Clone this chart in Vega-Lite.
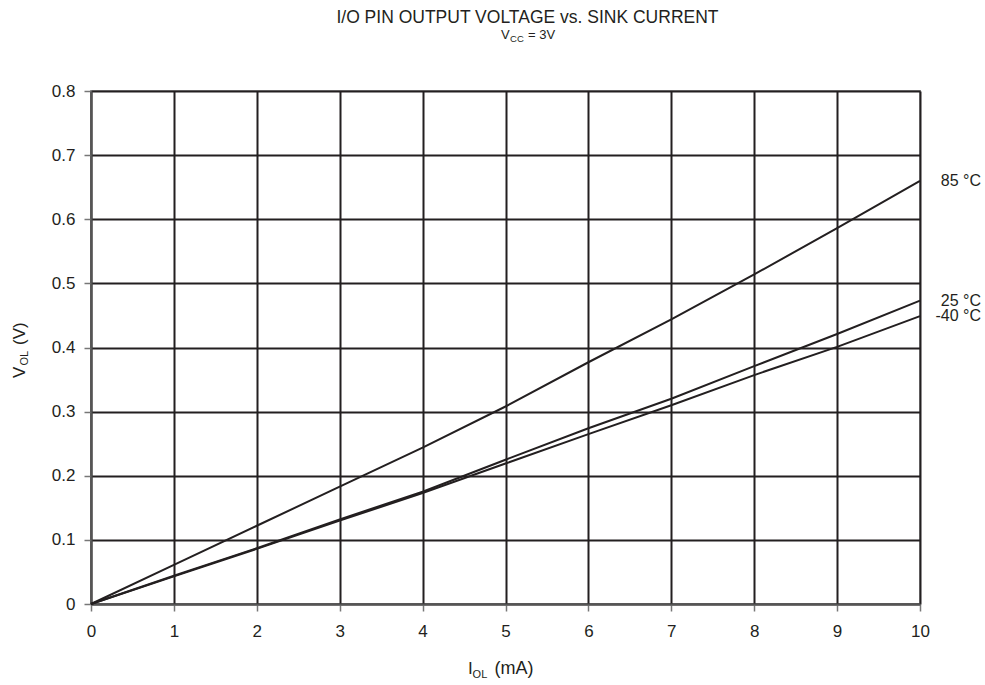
{
  "$schema": "https://vega.github.io/schema/vega-lite/v6.json",
  "width": 829,
  "height": 513,
  "autosize": {"type": "none"},
  "padding": {"left": 91, "top": 91, "right": 65, "bottom": 81},
  "background": "white",
  "config": {
    "font": "Liberation Sans",
    "view": {"stroke": "#9a9a9a", "strokeWidth": 2},
    "axis": {
      "grid": true,
      "gridColor": "#231f20",
      "gridWidth": 2,
      "gridOpacity": 1,
      "domainColor": "#555555",
      "domainWidth": 2,
      "tickColor": "#777777",
      "tickWidth": 1.5,
      "tickSize": 7,
      "labelFont": "Liberation Sans",
      "labelFontSize": 17,
      "labelColor": "#231f20",
      "labelFlush": false,
      "labelOverlap": false,
      "title": null
    }
  },
  "datasets": {
    "curves": [
      {"I": 0, "V": 0, "series": "85 °C"},
      {"I": 1, "V": 0.061, "series": "85 °C"},
      {"I": 2, "V": 0.122, "series": "85 °C"},
      {"I": 3, "V": 0.183, "series": "85 °C"},
      {"I": 4, "V": 0.244, "series": "85 °C"},
      {"I": 5, "V": 0.308, "series": "85 °C"},
      {"I": 6, "V": 0.377, "series": "85 °C"},
      {"I": 7, "V": 0.444, "series": "85 °C"},
      {"I": 8, "V": 0.514, "series": "85 °C"},
      {"I": 9, "V": 0.586, "series": "85 °C"},
      {"I": 10, "V": 0.660, "series": "85 °C"},
      {"I": 0, "V": 0, "series": "25 °C"},
      {"I": 1, "V": 0.044, "series": "25 °C"},
      {"I": 2, "V": 0.087, "series": "25 °C"},
      {"I": 3, "V": 0.132, "series": "25 °C"},
      {"I": 4, "V": 0.175, "series": "25 °C"},
      {"I": 5, "V": 0.225, "series": "25 °C"},
      {"I": 6, "V": 0.274, "series": "25 °C"},
      {"I": 7, "V": 0.320, "series": "25 °C"},
      {"I": 8, "V": 0.371, "series": "25 °C"},
      {"I": 9, "V": 0.421, "series": "25 °C"},
      {"I": 10, "V": 0.473, "series": "25 °C"},
      {"I": 0, "V": 0, "series": "-40 °C"},
      {"I": 1, "V": 0.043, "series": "-40 °C"},
      {"I": 2, "V": 0.086, "series": "-40 °C"},
      {"I": 3, "V": 0.130, "series": "-40 °C"},
      {"I": 4, "V": 0.173, "series": "-40 °C"},
      {"I": 5, "V": 0.219, "series": "-40 °C"},
      {"I": 6, "V": 0.265, "series": "-40 °C"},
      {"I": 7, "V": 0.310, "series": "-40 °C"},
      {"I": 8, "V": 0.357, "series": "-40 °C"},
      {"I": 9, "V": 0.401, "series": "-40 °C"},
      {"I": 10, "V": 0.449, "series": "-40 °C"}
    ]
  },
  "layer": [
    {
      "data": {"name": "curves"},
      "mark": {"type": "line", "stroke": "#231f20", "strokeWidth": 2},
      "encoding": {
        "x": {"field": "I", "type": "quantitative", "scale": {"domain": [0, 10], "nice": false},
              "axis": {"values": [0,1,2,3,4,5,6,7,8,9,10], "labelPadding": 12, "format": "d"}},
        "y": {"field": "V", "type": "quantitative", "scale": {"domain": [0, 0.8], "nice": false},
              "axis": {"values": [0,0.1,0.2,0.3,0.4,0.5,0.6,0.7,0.8], "labelPadding": 9, "format": "~g"}},
        "detail": {"field": "series"}
      }
    },
    {
      "data": {"name": "curves"},
      "transform": [{"filter": "datum.I === 10"}],
      "mark": {"type": "text", "align": "right", "baseline": "middle", "dx": 61, "fontSize": 16, "color": "#231f20"},
      "encoding": {
        "x": {"field": "I", "type": "quantitative"},
        "y": {"field": "V", "type": "quantitative"},
        "text": {"field": "series"}
      }
    },
    {
      "data": {"values": [{}]},
      "mark": {"type": "text", "text": "I/O PIN OUTPUT VOLTAGE vs. SINK CURRENT", "align": "center", "baseline": "alphabetic", "fontSize": 17.5, "color": "#231f20"},
      "encoding": {"x": {"datum": 5.265}, "y": {"datum": 0.9056}}
    },
    {
      "data": {"values": [{}]},
      "mark": {"type": "text", "text": "V", "align": "left", "baseline": "alphabetic", "fontSize": 13, "color": "#231f20"},
      "encoding": {"x": {"datum": 4.946}, "y": {"datum": 0.8806}}
    },
    {
      "data": {"values": [{}]},
      "mark": {"type": "text", "text": "CC", "align": "left", "baseline": "alphabetic", "fontSize": 9.5, "dx": 9, "dy": 2.5, "color": "#231f20"},
      "encoding": {"x": {"datum": 4.946}, "y": {"datum": 0.8806}}
    },
    {
      "data": {"values": [{}]},
      "mark": {"type": "text", "text": "= 3V", "align": "left", "baseline": "alphabetic", "fontSize": 13, "dx": 27, "color": "#231f20"},
      "encoding": {"x": {"datum": 4.946}, "y": {"datum": 0.8806}}
    },
    {
      "data": {"values": [{}]},
      "mark": {"type": "text", "text": "I", "align": "left", "baseline": "alphabetic", "fontSize": 17, "color": "#231f20"},
      "encoding": {"x": {"datum": 4.549}, "y": {"datum": -0.1096}}
    },
    {
      "data": {"values": [{}]},
      "mark": {"type": "text", "text": "OL", "align": "left", "baseline": "alphabetic", "fontSize": 11, "dx": 4.5, "dy": 4, "color": "#231f20"},
      "encoding": {"x": {"datum": 4.549}, "y": {"datum": -0.1096}}
    },
    {
      "data": {"values": [{}]},
      "mark": {"type": "text", "text": "(mA)", "align": "left", "baseline": "alphabetic", "fontSize": 18, "dx": 26.5, "color": "#231f20"},
      "encoding": {"x": {"datum": 4.549}, "y": {"datum": -0.1096}}
    },
    {
      "data": {"values": [{}]},
      "mark": {"type": "text", "text": "V", "angle": 270, "align": "left", "baseline": "alphabetic", "fontSize": 17, "color": "#231f20"},
      "encoding": {"x": {"datum": -0.796}, "y": {"datum": 0.3524}}
    },
    {
      "data": {"values": [{}]},
      "mark": {"type": "text", "text": "OL", "angle": 270, "align": "left", "baseline": "alphabetic", "fontSize": 11, "dx": 12.5, "dy": 3, "color": "#231f20"},
      "encoding": {"x": {"datum": -0.796}, "y": {"datum": 0.3524}}
    },
    {
      "data": {"values": [{}]},
      "mark": {"type": "text", "text": "(V)", "angle": 270, "align": "left", "baseline": "alphabetic", "fontSize": 17, "dx": 33, "color": "#231f20"},
      "encoding": {"x": {"datum": -0.796}, "y": {"datum": 0.3524}}
    }
  ]
}
